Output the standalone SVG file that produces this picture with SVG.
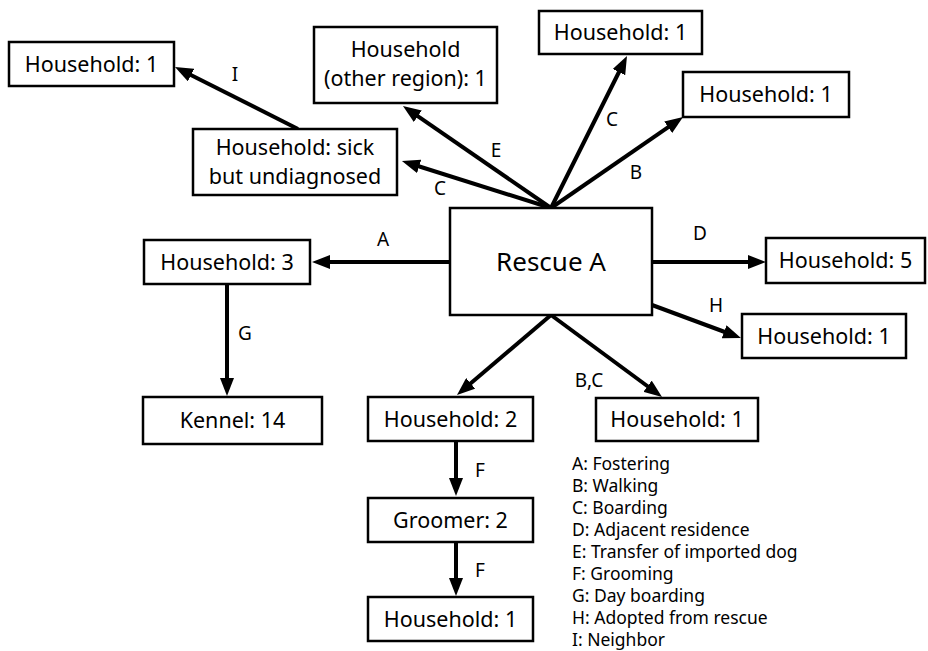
<svg xmlns="http://www.w3.org/2000/svg" width="928" height="651" viewBox="0 0 928 651">
<style>
.box{fill:#fff;stroke:#000;stroke-width:2.5}
.t{font-family:"Noto Sans","Open Sans",sans-serif;font-size:21.5px;fill:#000;text-anchor:middle}
.big{font-size:26px}
.lbl{font-family:"Noto Sans","Open Sans",sans-serif;font-size:19px;fill:#000;text-anchor:middle}
.leg{font-family:"Noto Sans","Open Sans",sans-serif;font-size:17.5px;fill:#000}
.e{stroke:#000;stroke-width:4;fill:none;marker-end:url(#ah)}
</style>
<defs>
<marker id="ah" markerUnits="userSpaceOnUse" markerWidth="18" markerHeight="14" viewBox="0 0 18 14" refX="8" refY="7" orient="auto">
<path d="M0,0 L18,7 L0,14 z" fill="#000"/>
</marker>
</defs>
<rect width="928" height="651" fill="#fff"/>
<g id="connectors">
<line class="e" x1="298" y1="129" x2="183.9" y2="71.5"/>
<line class="e" x1="551" y1="208" x2="411.5" y2="164"/>
<line class="e" x1="551" y1="208" x2="411.2" y2="111.7"/>
<line class="e" x1="551" y1="208" x2="622.5" y2="65"/>
<line class="e" x1="551" y1="208" x2="674.8" y2="122.7"/>
<line class="e" x1="450" y1="262" x2="322" y2="262"/>
<line class="e" x1="227" y1="284" x2="227" y2="386"/>
<line class="e" x1="652" y1="262" x2="756" y2="262"/>
<line class="e" x1="652" y1="305" x2="731.6" y2="334.5"/>
<line class="e" x1="551" y1="315" x2="464.6" y2="388.5"/>
<line class="e" x1="551" y1="315" x2="654" y2="391"/>
<line class="e" x1="456" y1="441" x2="456" y2="486"/>
<line class="e" x1="456" y1="542" x2="456" y2="586"/>
<text class="lbl" x="235" y="81">I</text>
<text class="lbl" x="496" y="157">E</text>
<text class="lbl" x="440" y="195">C</text>
<text class="lbl" x="612" y="126">C</text>
<text class="lbl" x="636" y="179">B</text>
<text class="lbl" x="383" y="246">A</text>
<text class="lbl" x="245" y="340">G</text>
<text class="lbl" x="700" y="240">D</text>
<text class="lbl" x="716" y="312">H</text>
<text class="lbl" x="589" y="387">B,C</text>
<text class="lbl" x="480" y="477">F</text>
<text class="lbl" x="480" y="577">F</text>
</g>
<g id="rescueA"><rect class="box" x="450" y="208" width="202" height="107"/><text class="t big" x="551" y="271">Rescue A</text></g>
<g id="hh_topleft"><rect class="box" x="9" y="42" width="165" height="44"/><text class="t" x="91.5" y="71.5">Household: 1</text></g>
<g id="hh_sick"><rect class="box" x="193" y="129" width="204" height="66"/><text class="t" x="295" y="155">Household: sick</text><text class="t" x="295" y="184">but undiagnosed</text></g>
<g id="hh_other"><rect class="box" x="314" y="27" width="183" height="76"/><text class="t" x="405.5" y="57">Household</text><text class="t" x="405.5" y="86">(other region): 1</text></g>
<g id="hh_topC"><rect class="box" x="539" y="11" width="163" height="43"/><text class="t" x="620.5" y="40">Household: 1</text></g>
<g id="hh_B"><rect class="box" x="683" y="72" width="166" height="45"/><text class="t" x="766" y="102">Household: 1</text></g>
<g id="hh_3"><rect class="box" x="144" y="240" width="166" height="44"/><text class="t" x="227" y="269.5">Household: 3</text></g>
<g id="kennel"><rect class="box" x="143" y="397" width="179" height="47"/><text class="t" x="232.5" y="428">Kennel: 14</text></g>
<g id="hh_5"><rect class="box" x="766" y="238" width="159" height="45"/><text class="t" x="845.5" y="268">Household: 5</text></g>
<g id="hh_H"><rect class="box" x="742" y="314" width="164" height="44"/><text class="t" x="824" y="343.5">Household: 1</text></g>
<g id="hh_2"><rect class="box" x="368" y="397" width="165" height="44"/><text class="t" x="450.5" y="426.5">Household: 2</text></g>
<g id="hh_BC"><rect class="box" x="596" y="398" width="162" height="43"/><text class="t" x="677" y="427">Household: 1</text></g>
<g id="groomer"><rect class="box" x="368" y="498" width="165" height="44"/><text class="t" x="450.5" y="527.5">Groomer: 2</text></g>
<g id="hh_bottom"><rect class="box" x="368" y="597" width="165" height="44"/><text class="t" x="450.5" y="626.5">Household: 1</text></g>
<g id="legend">
<text class="leg" x="572" y="470">A: Fostering</text>
<text class="leg" x="572" y="492">B: Walking</text>
<text class="leg" x="572" y="514">C: Boarding</text>
<text class="leg" x="572" y="536">D: Adjacent residence</text>
<text class="leg" x="572" y="558">E: Transfer of imported dog</text>
<text class="leg" x="572" y="580">F: Grooming</text>
<text class="leg" x="572" y="602">G: Day boarding</text>
<text class="leg" x="572" y="624">H: Adopted from rescue</text>
<text class="leg" x="572" y="646">I: Neighbor</text>
</g>
</svg>
